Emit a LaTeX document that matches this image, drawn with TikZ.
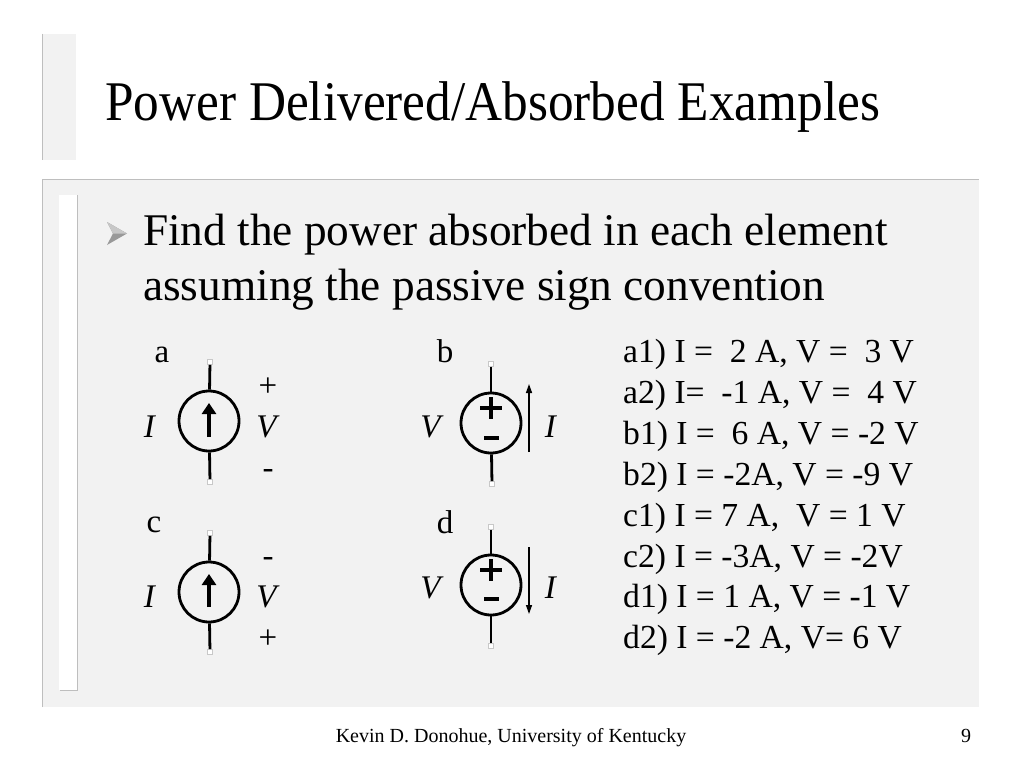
\documentclass[tikz,border=0pt]{standalone}
\usepackage{fontspec}
\setmainfont{Liberation Serif}
\usetikzlibrary{arrows.meta}
\definecolor{slidebg}{RGB}{242,242,242}
\definecolor{edgegray}{RGB}{190,190,190}
\definecolor{termgray}{RGB}{200,200,200}

\begin{document}
\begin{tikzpicture}[x=1pt, y=-1pt,
		src/.style={circle, draw, line width=2.8pt, minimum size=60pt, inner sep=0pt},
		term/.style={draw=termgray, fill=white, line width=0.6pt, minimum size=5pt, inner sep=0pt},
		wire/.style={line width=2.8pt},
		lbl/.style={anchor=base, inner sep=0pt, font=\fontsize{33}{36}\selectfont},
		ans/.style={anchor=base west, inner sep=0pt, font=\fontsize{33.6}{36}\selectfont}]
		%%%%% START %%%%%
		
		\useasboundingbox[fill=white] (0, 0) rectangle (1024, 768);
		
		% slide frame
		\fill[slidebg] (42, 34) rectangle (76, 160);
		\draw[edgegray, line width=1pt] (42, 34) -- (42, 160);
		\fill[slidebg] (42, 179) rectangle (979, 707);
		\draw[edgegray, line width=1pt] (42, 707) -- (42, 179) -- (979, 179);
		\fill[white] (59, 195) rectangle (77, 690);
		\draw[edgegray, line width=1pt] (77, 195) -- (77, 690) -- (60, 690);
		
		\node[anchor=base west, inner sep=0pt, font=\fontsize{56}{60}\selectfont] (title) at (105, 120) {\scalebox{0.916}[1]{Power Delivered/Absorbed Examples}};
		
		\fill[black!40] (107, 222) -- (127, 233.5) -- (107, 245) -- (113, 233.5) -- cycle;
		\fill[black!22] (107, 222) -- (127, 233.5) -- (113, 233.5) -- cycle;
		\node[anchor=base west, inner sep=0pt, font=\fontsize{45.3}{50}\selectfont] (task1) at (143, 245) {Find the power absorbed in each element};
		\node[anchor=base west, inner sep=0pt, font=\fontsize{45.3}{50}\selectfont] (task2) at (143, 300) {assuming the passive sign convention};
		
		% element a
		\node[lbl] (nameA) at (162, 362) {a};
		\node[src] (srcA) at (209, 421) {};
		\node[term] (tA1) at (210, 362) {};
		\node[term] (tA2) at (210, 482) {};
		\draw[wire] (tA1) -- (srcA);
		\draw[wire] (srcA) -- (tA2);
		\draw[line width=4.5pt, -{Triangle[width=14pt, length=11pt]}] (209, 437) -- (209, 403);
		\node[lbl] (curA) at (150, 437) {\textit{I}};
		\node[lbl] (plusA) at (268, 396) {+};
		\node[lbl] (voltA) at (268, 437) {\textit{V}};
		\node[lbl] (minusA) at (268, 478) {-};
		
		% element b
		\node[lbl] (nameB) at (445, 362) {b};
		\node[src] (srcB) at (491, 423) {};
		\node[term] (tB1) at (491, 364) {};
		\node[term] (tB2) at (492, 484) {};
		\draw[wire] (tB1) -- (srcB);
		\draw[wire] (srcB) -- (tB2);
		\draw[line width=4.5pt] (480, 408) -- (502, 408);
		\draw[line width=4.5pt] (491, 397) -- (491, 419);
		\draw[line width=4.5pt] (484, 438) -- (499, 438);
		\draw[line width=1.3pt, -{Triangle[width=6pt, length=9pt]}] (529, 452) -- (529, 384);
		\node[lbl] (voltB) at (432, 437) {\textit{V}};
		\node[lbl] (curB) at (551, 437) {\textit{I}};
		
		% element c
		\node[lbl] (nameC) at (154, 532) {c};
		\node[src] (srcC) at (209, 592) {};
		\node[term] (tC1) at (210, 533) {};
		\node[term] (tC2) at (210, 652) {};
		\draw[wire] (tC1) -- (srcC);
		\draw[wire] (srcC) -- (tC2);
		\draw[line width=4.5pt, -{Triangle[width=14pt, length=11pt]}] (209, 607) -- (209, 574);
		\node[lbl] (curC) at (150, 607) {\textit{I}};
		\node[lbl] (minusC) at (268, 566) {-};
		\node[lbl] (voltC) at (268, 607) {\textit{V}};
		\node[lbl] (plusC) at (268, 648) {+};
		
		% element d
		\node[lbl] (nameD) at (445, 533) {d};
		\node[src] (srcD) at (491, 585) {};
		\node[term] (tD1) at (491, 527) {};
		\node[term] (tD2) at (491, 646) {};
		\draw[wire] (tD1) -- (srcD);
		\draw[wire] (srcD) -- (tD2);
		\draw[line width=4.5pt] (480, 570) -- (502, 570);
		\draw[line width=4.5pt] (491, 559) -- (491, 581);
		\draw[line width=4.5pt] (484, 599) -- (499, 599);
		\draw[line width=1.3pt, -{Triangle[width=6pt, length=9pt]}] (529, 547) -- (529, 614);
		\node[lbl] (voltD) at (432, 598) {\textit{V}};
		\node[lbl] (curD) at (551, 598) {\textit{I}};
		
		% cases
		\node[ans] (ansA1) at (623, 362) {a1) I = \ 2 A, V = \ 3 V};
		\node[ans] (ansA2) at (623, 403) {a2) I= \ -1 A, V = \ 4 V};
		\node[ans] (ansB1) at (623, 444) {b1) I = \ 6 A, V = -2 V};
		\node[ans] (ansB2) at (623, 485) {b2) I = -2A, V = -9 V};
		\node[ans] (ansC1) at (623, 526) {c1) I = 7 A, \ V = 1 V};
		\node[ans] (ansC2) at (623, 567) {c2) I = -3A, V = -2V};
		\node[ans] (ansD1) at (623, 607) {d1) I = 1 A, V = -1 V};
		\node[ans] (ansD2) at (623, 648) {d2) I = -2 A, V= 6 V};
		
		\node[anchor=base, inner sep=0pt, font=\fontsize{20}{22}\selectfont] (footer) at (511, 742) {Kevin D. Donohue, University of Kentucky};
		\node[anchor=base, inner sep=0pt, font=\fontsize{20}{22}\selectfont] (pagenum) at (966, 742) {9};
		
		%%%%% END %%%%%
	\end{tikzpicture}
\end{document}
